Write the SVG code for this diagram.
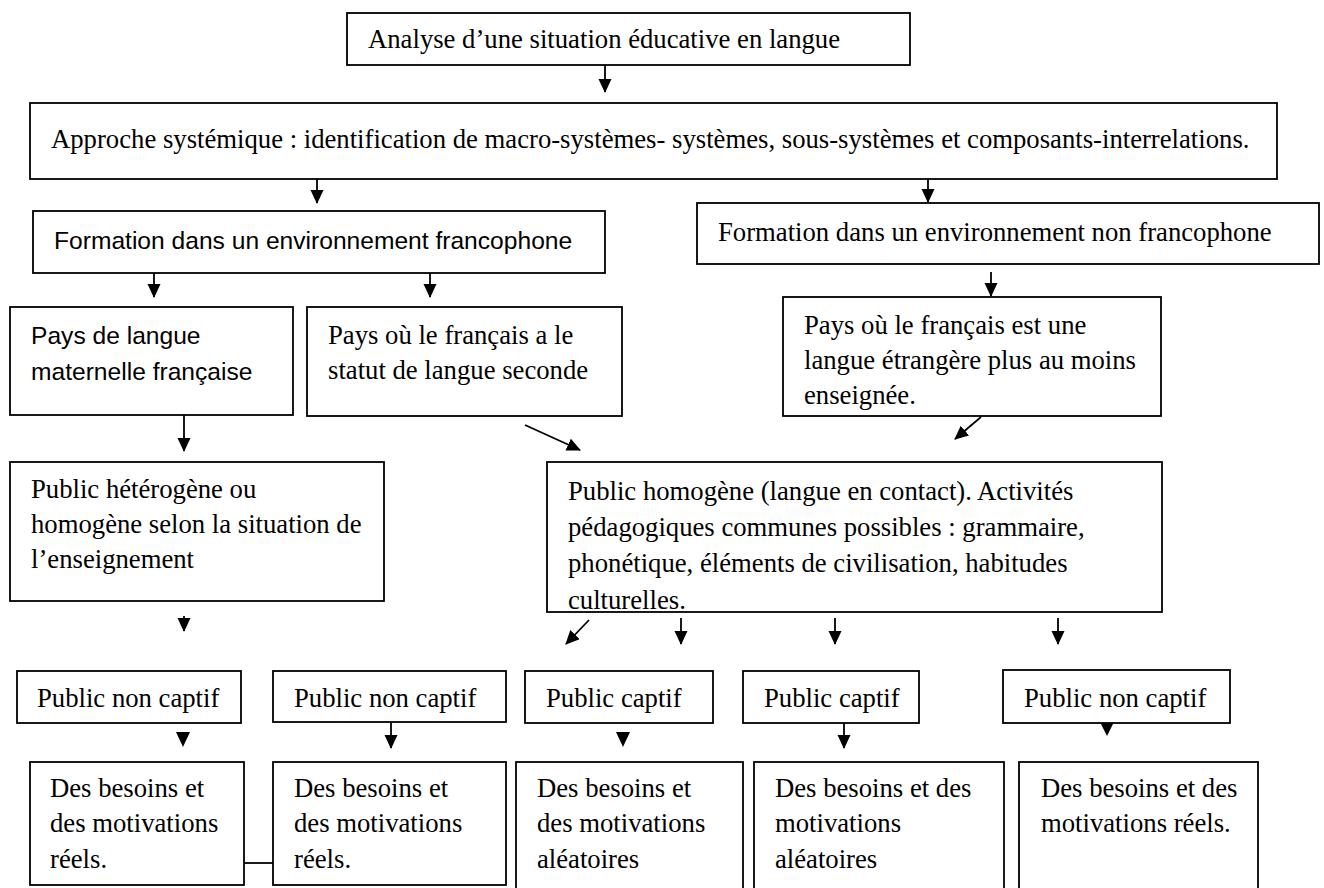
<svg xmlns="http://www.w3.org/2000/svg" width="1324" height="888" viewBox="0 0 1324 888">
<style>
.box{fill:#fff;stroke:#000;stroke-width:1.8}
.t{font-family:"Liberation Serif","Times New Roman",serif;font-size:26.7px;fill:#000}
.s{font-family:"Liberation Sans",Arial,sans-serif;font-size:24.6px;fill:#000}
.c line{stroke:#000;stroke-width:1.8;fill:none}
.c .a{marker-end:url(#ah)}
.c polygon{fill:#000}
</style>
<defs>
<marker id="ah" markerUnits="userSpaceOnUse" markerWidth="14" markerHeight="14" refX="13" refY="6.5" orient="auto">
<path d="M0,0 L14,6.5 L0,13 z" fill="#000"/>
</marker>
<clipPath id="clipHomo"><rect x="547" y="462" width="615" height="149"/></clipPath>
</defs>
<rect width="1324" height="888" fill="#fff"/>

<g id="connectors" class="c">
<line class="a" x1="605" y1="65" x2="605" y2="92"/>
<line class="a" x1="317" y1="179" x2="317" y2="203"/>
<line class="a" x1="928" y1="178" x2="928" y2="202"/>
<line class="a" x1="154" y1="273" x2="154" y2="297"/>
<line class="a" x1="430" y1="273" x2="430" y2="297"/>
<line class="a" x1="991" y1="272" x2="991" y2="296"/>
<line class="a" x1="184" y1="415" x2="184" y2="451"/>
<line class="a" x1="525" y1="425" x2="580" y2="450"/>
<line class="a" x1="981" y1="417" x2="955" y2="439"/>
<line class="a" x1="184" y1="616" x2="184" y2="631"/>
<line class="a" x1="589" y1="620" x2="566" y2="644"/>
<line class="a" x1="681" y1="618" x2="681" y2="644"/>
<line class="a" x1="835" y1="618" x2="835" y2="644"/>
<line class="a" x1="1058" y1="618" x2="1058" y2="644"/>
<polygon points="176,732 190,732 183,747"/>
<line class="a" x1="391" y1="722" x2="391" y2="748"/>
<polygon points="616,732 630,732 623,747"/>
<line class="a" x1="844" y1="723" x2="844" y2="748"/>
<polygon points="1100,722 1114,722 1107,736"/>
<line x1="244" y1="863" x2="273" y2="863"/>
</g>

<g id="n-analyse">
<rect class="box" x="347" y="13" width="563" height="52"/>
<text class="t" x="368" y="48">Analyse d’une situation éducative en langue</text>
</g>
<g id="n-approche">
<rect class="box" x="30" y="103" width="1247" height="76"/>
<text class="t" x="51" y="148">Approche systémique : identification de macro-systèmes- systèmes, sous-systèmes et composants-interrelations.</text>
</g>
<g id="n-francophone">
<rect class="box" x="33" y="211" width="572" height="62"/>
<text class="s" x="54" y="249">Formation dans un environnement francophone</text>
</g>
<g id="n-nonfrancophone">
<rect class="box" x="697" y="203" width="622" height="61"/>
<text class="t" x="718" y="241">Formation dans un environnement non francophone</text>
</g>
<g id="n-fle">
<rect class="box" x="783" y="297" width="378" height="119"/>
<text class="t" x="804" y="334">Pays où le français est une</text>
<text class="t" x="804" y="369">langue étrangère plus au moins</text>
<text class="t" x="804" y="404">enseignée.</text>
</g>
<g id="n-flm">
<rect class="box" x="10" y="307" width="283" height="108"/>
<text class="s" x="31" y="344">Pays de langue</text>
<text class="s" x="31" y="380">maternelle française</text>
</g>
<g id="n-fls">
<rect class="box" x="307" y="307" width="315" height="109"/>
<text class="t" x="328" y="344">Pays où le français a le</text>
<text class="t" x="328" y="379">statut de langue seconde</text>
</g>
<g id="n-heterogene">
<rect class="box" x="10" y="462" width="374" height="139"/>
<text class="t" x="31" y="498">Public hétérogène ou</text>
<text class="t" x="31" y="533">homogène selon la situation de</text>
<text class="t" x="31" y="568">l’enseignement</text>
</g>
<g id="n-homogene">
<rect class="box" x="547" y="462" width="615" height="150"/>
<g clip-path="url(#clipHomo)">
<text class="t" x="568" y="500">Public homogène (langue en contact). Activités</text>
<text class="t" x="568" y="536">pédagogiques communes possibles : grammaire,</text>
<text class="t" x="568" y="572">phonétique, éléments de civilisation, habitudes</text>
<text class="t" x="568" y="609">culturelles.</text>
</g>
</g>
<g id="n-pnc1">
<rect class="box" x="17" y="671" width="224" height="52"/>
<text class="t" x="37" y="707">Public non captif</text>
</g>
<g id="n-pnc2">
<rect class="box" x="273" y="671" width="233" height="51"/>
<text class="t" x="294" y="707">Public non captif</text>
</g>
<g id="n-pc1">
<rect class="box" x="525" y="671" width="188" height="52"/>
<text class="t" x="546" y="707">Public captif</text>
</g>
<g id="n-pc2">
<rect class="box" x="743" y="671" width="176" height="52"/>
<text class="t" x="764" y="707">Public captif</text>
</g>
<g id="n-pnc3">
<rect class="box" x="1003" y="670" width="227" height="53"/>
<text class="t" x="1024" y="707">Public non captif</text>
</g>
<g id="n-reels1">
<rect class="box" x="30" y="762" width="214" height="123"/>
<text class="t" x="50" y="797">Des besoins et</text>
<text class="t" x="50" y="832">des motivations</text>
<text class="t" x="50" y="868">réels.</text>
</g>
<g id="n-reels2">
<rect class="box" x="273" y="762" width="233" height="123"/>
<text class="t" x="294" y="797">Des besoins et</text>
<text class="t" x="294" y="832">des motivations</text>
<text class="t" x="294" y="868">réels.</text>
</g>
<g id="n-aleat1">
<rect class="box" x="516" y="762" width="227" height="140"/>
<text class="t" x="537" y="797">Des besoins et</text>
<text class="t" x="537" y="832">des motivations</text>
<text class="t" x="537" y="868">aléatoires</text>
</g>
<g id="n-aleat2">
<rect class="box" x="754" y="762" width="250" height="140"/>
<text class="t" x="775" y="797">Des besoins et des</text>
<text class="t" x="775" y="832">motivations</text>
<text class="t" x="775" y="868">aléatoires</text>
</g>
<g id="n-reels3">
<rect class="box" x="1019" y="762" width="239" height="140"/>
<text class="t" x="1041" y="797">Des besoins et des</text>
<text class="t" x="1041" y="832">motivations réels.</text>
</g>
</svg>
